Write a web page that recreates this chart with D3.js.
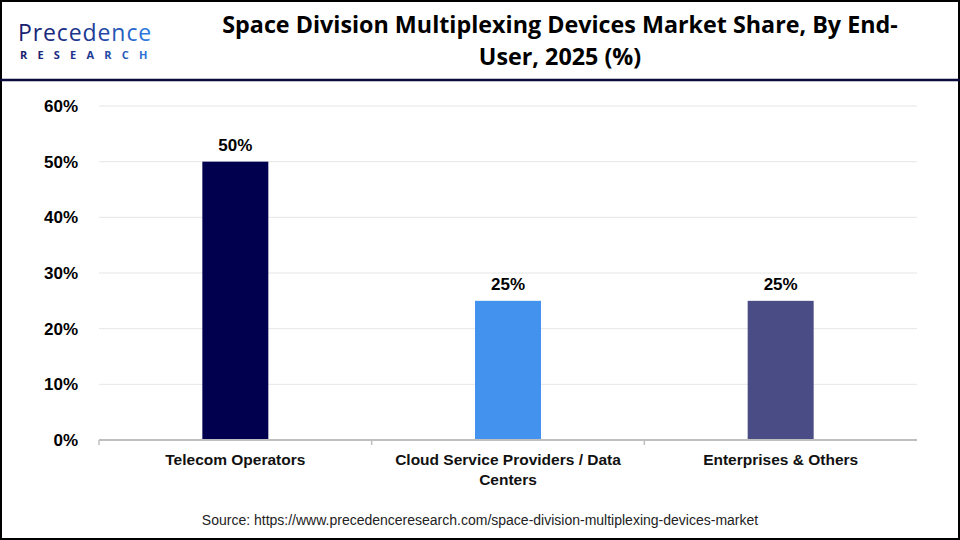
<!DOCTYPE html>
<html>
<head>
<meta charset="utf-8">
<script src="https://cdn.jsdelivr.net/npm/d3@7"></script>
<style>
  body { margin: 0; background: #fff; }
  svg { display: block; }
</style>
</head>
<body>
<svg width="960" height="540"></svg>
<script>
// chart data
var categories = ["Telecom Operators", "Cloud Service Providers / Data Centers", "Enterprises & Others"];
var shares = [50, 25, 25];
var barColors = ["#00004f", "#4392ee", "#4a4c86"];
var yTicks = [0, 10, 20, 30, 40, 50, 60];

var svg = d3.select("svg"),
    width = +svg.attr("width"),
    height = +svg.attr("height");

var plotLeft = 99, plotRight = 917, plotTop = 106, plotBottom = 440;

// frame + header
svg.append("rect")
    .attr("x", 1).attr("y", 1)
    .attr("width", width - 2).attr("height", height - 2)
    .attr("fill", "#fff").attr("stroke", "#000").attr("stroke-width", 2);

svg.append("line")
    .attr("x1", 0).attr("x2", width)
    .attr("y1", 80).attr("y2", 80)
    .attr("stroke", "#0a0a3c").attr("stroke-width", 2.5);

// logo
var grad = svg.append("defs").append("linearGradient")
    .attr("id", "logoGrad")
    .attr("x1", "0%").attr("x2", "100%");
grad.append("stop").attr("offset", "0%").attr("stop-color", "#1a1f6e");
grad.append("stop").attr("offset", "55%").attr("stop-color", "#1f3a94");
grad.append("stop").attr("offset", "100%").attr("stop-color", "#2f7fe6");

svg.append("text")
    .attr("x", 18).attr("y", 41)
    .attr("font-family", "'Open Sans', sans-serif")
    .attr("font-size", 23)
    .attr("letter-spacing", 0.9)
    .attr("fill", "url(#logoGrad)")
    .text("Precedence");
svg.append("text")
    .attr("x", 20).attr("y", 59)
    .attr("font-family", "'Open Sans', sans-serif")
    .attr("font-weight", 700)
    .attr("font-size", 11)
    .attr("letter-spacing", 10.2)
    .attr("fill", "url(#logoGrad)")
    .text("RESEARCH");

// title
var title = svg.append("text")
    .attr("text-anchor", "middle")
    .attr("font-family", "'Open Sans', sans-serif")
    .attr("font-weight", 700)
    .attr("font-size", 23.3)
    .attr("fill", "#000");
title.append("tspan").attr("x", 560).attr("y", 33).text("Space Division Multiplexing Devices Market Share, By End-");
title.append("tspan").attr("x", 560).attr("y", 65).text("User, 2025 (%)");

// scales
var x = d3.scaleBand()
    .domain(categories)
    .range([plotLeft, plotRight])
    .paddingInner(0.758)
    .paddingOuter(0.379);

var y = d3.scaleLinear()
    .domain([0, 60])
    .range([plotBottom, plotTop]);

// gridlines
svg.append("g")
    .selectAll("line")
    .data(yTicks.filter(function (d) { return d > 0; }))
    .join("line")
    .attr("x1", plotLeft).attr("x2", plotRight)
    .attr("y1", function (d) { return y(d); })
    .attr("y2", function (d) { return y(d); })
    .attr("stroke", "#e6e6e6").attr("stroke-width", 1);

// y axis labels
var yAxis = svg.append("g")
    .attr("transform", "translate(" + (plotLeft - 18) + ",0)")
    .call(d3.axisLeft(y).tickValues(yTicks).tickSize(0).tickFormat(function (d) { return d + "%"; }));
yAxis.select(".domain").remove();
yAxis.selectAll("text")
    .attr("font-family", "'Liberation Sans', Arial, sans-serif")
    .attr("font-weight", 700)
    .attr("font-size", 17)
    .attr("fill", "#000");

// bars
svg.append("g")
    .selectAll("rect")
    .data(shares)
    .join("rect")
    .attr("x", function (d, i) { return x(categories[i]); })
    .attr("y", function (d) { return y(d); })
    .attr("width", x.bandwidth())
    .attr("height", function (d) { return plotBottom - y(d); })
    .attr("fill", function (d, i) { return barColors[i]; });

// value labels
svg.append("g")
    .selectAll("text")
    .data(shares)
    .join("text")
    .attr("x", function (d, i) { return x(categories[i]) + x.bandwidth() / 2; })
    .attr("y", function (d) { return y(d) - 11; })
    .attr("text-anchor", "middle")
    .attr("font-family", "'Liberation Sans', Arial, sans-serif")
    .attr("font-weight", 700)
    .attr("font-size", 17)
    .attr("fill", "#000")
    .text(function (d) { return d + "%"; });

// x axis line + ticks at category boundaries
svg.append("line")
    .attr("x1", plotLeft).attr("x2", plotRight)
    .attr("y1", plotBottom).attr("y2", plotBottom)
    .attr("stroke", "#bfbfbf").attr("stroke-width", 2);

var step = (plotRight - plotLeft) / categories.length;
svg.append("g")
    .selectAll("line")
    .data(d3.range(categories.length))
    .join("line")
    .attr("x1", function (i) { return plotLeft + i * step; })
    .attr("x2", function (i) { return plotLeft + i * step; })
    .attr("y1", plotBottom).attr("y2", plotBottom + 5)
    .attr("stroke", "#bfbfbf").attr("stroke-width", 1.5);

// category labels (wrapped like the original)
var catLines = [["Telecom Operators"], ["Cloud Service Providers / Data", "Centers"], ["Enterprises & Others"]];
var catText = svg.append("g")
    .selectAll("text")
    .data(categories)
    .join("text")
    .attr("text-anchor", "middle")
    .attr("font-family", "'Liberation Sans', Arial, sans-serif")
    .attr("font-weight", 700)
    .attr("font-size", 15.5)
    .attr("fill", "#111");
catText.each(function (d, i) {
    var t = d3.select(this);
    catLines[i].forEach(function (line, j) {
        t.append("tspan")
            .attr("x", x(d) + x.bandwidth() / 2)
            .attr("y", 465 + j * 20)
            .text(line);
    });
});

// source
svg.append("text")
    .attr("x", 480).attr("y", 525)
    .attr("text-anchor", "middle")
    .attr("font-family", "'Liberation Sans', Arial, sans-serif")
    .attr("font-size", 14)
    .attr("fill", "#222")
    .text("Source: https://www.precedenceresearch.com/space-division-multiplexing-devices-market");
</script>
</body>
</html>
